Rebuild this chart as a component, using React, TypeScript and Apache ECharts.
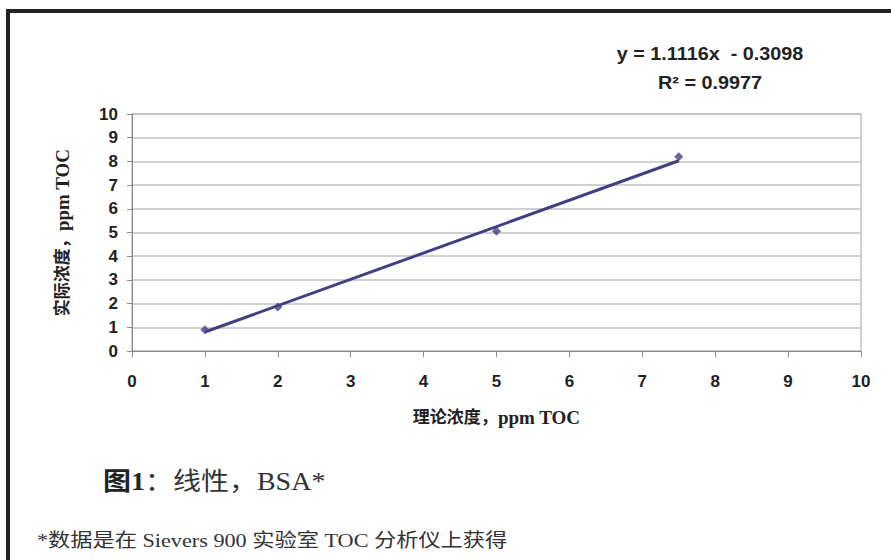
import React, { useEffect, useRef } from "react";
import * as echarts from "echarts";

// Measured data (theoretical vs actual ppm TOC)
const theoretical = [1, 2, 5, 7.5];
const actual = [0.9, 1.86, 5.05, 8.2];

// Linear trendline as reported on the chart
const TREND_SLOPE = 1.1116;
const TREND_INTERCEPT = -0.3098;
const R_SQUARED = 0.9977;

const axisTicks = [0, 1, 2, 3, 4, 5, 6, 7, 8, 9, 10];

const xAxisNameCJK = "理论浓度，";
const yAxisNameCJK = "实际浓度，";
const axisUnit = "ppm TOC";
const captionTitle = "图1";
const captionRest = "：线性，BSA*";
const footnote = "*数据是在 Sievers 900 实验室 TOC 分析仪上获得";

export default function App() {
  const ref = useRef<HTMLDivElement>(null);

  useEffect(() => {
    if (!ref.current) return;
    const chart = echarts.init(ref.current, null, { renderer: "svg" });
    const xMin = Math.min(...theoretical);
    const xMax = Math.max(...theoretical);
    const trend = [
      [xMin, TREND_SLOPE * xMin + TREND_INTERCEPT],
      [xMax, TREND_SLOPE * xMax + TREND_INTERCEPT],
    ];
    const sansBold = {
      fontFamily: "'Liberation Sans', Arial, sans-serif",
      fontWeight: "bold" as const,
      color: "#222",
    };
    const serif = "'Liberation Serif', 'Times New Roman', 'Noto Sans CJK SC', serif";
    const nameStyle = {
      fontFamily: serif,
      fontWeight: "bold",
      fontSize: 17,
      color: "#222",
      rich: {
        c: { fontFamily: serif, fontWeight: "bold", fontSize: 17, color: "#222" },
        l: { fontFamily: serif, fontWeight: "bold", fontSize: 19, color: "#222" },
      },
    };
    chart.setOption({
      animation: false,
      backgroundColor: "#fff",
      grid: {
        left: 132,
        right: 30,
        top: 114,
        bottom: 209,
        show: true,
        borderColor: "#a0a0a0",
        borderWidth: 1,
      },
      xAxis: {
        type: "value",
        min: axisTicks[0],
        max: axisTicks[axisTicks.length - 1],
        interval: 1,
        name: `{c|${xAxisNameCJK}}{l|${axisUnit}}`,
        nameLocation: "middle",
        nameGap: 57,
        nameTextStyle: nameStyle,
        axisLine: { show: true, lineStyle: { color: "#8a8a8a", width: 1 } },
        axisTick: { show: true, length: 6, lineStyle: { color: "#8a8a8a" } },
        splitLine: { show: false },
        axisLabel: { ...sansBold, fontSize: 17, margin: 22 },
      },
      yAxis: {
        type: "value",
        min: axisTicks[0],
        max: axisTicks[axisTicks.length - 1],
        interval: 1,
        name: `{c|${yAxisNameCJK}}{l|${axisUnit}}`,
        nameLocation: "middle",
        nameRotate: 90,
        nameGap: 60,
        nameTextStyle: nameStyle,
        axisLine: { show: true, lineStyle: { color: "#8a8a8a", width: 1 } },
        axisTick: { show: true, length: 5, lineStyle: { color: "#8a8a8a" } },
        splitLine: { show: true, lineStyle: { color: "#c0c0c0", width: 1.5 } },
        axisLabel: { ...sansBold, fontSize: 17, margin: 14 },
      },
      series: [
        {
          type: "line",
          data: trend,
          showSymbol: false,
          lineStyle: { color: "#433f83", width: 3 },
          z: 2,
        },
        {
          type: "scatter",
          data: theoretical.map((x, i) => [x, actual[i]]),
          symbol: "diamond",
          symbolSize: 9,
          itemStyle: { color: "#433f83" },
          z: 3,
        },
      ],
      graphic: [
        {
          type: "rect",
          shape: { x: 8, y: 11, width: 1000, height: 1000 },
          style: { fill: "none", stroke: "#222", lineWidth: 4 },
          z: 10,
        },
        {
          type: "text",
          x: 710,
          y: 54,
          scaleX: 1.1,
          style: {
            text: `y = ${TREND_SLOPE}x  - ${Math.abs(TREND_INTERCEPT)}`,
            ...sansBold,
            fill: "#222",
            fontSize: 18,
            align: "center",
            verticalAlign: "middle",
          },
        },
        {
          type: "text",
          x: 710,
          y: 83,
          scaleX: 1.1,
          style: {
            text: `R² = ${R_SQUARED}`,
            ...sansBold,
            fill: "#222",
            fontSize: 18,
            align: "center",
            verticalAlign: "middle",
          },
        },
        {
          type: "text",
          x: 103,
          y: 482,
          scaleX: 1.12,
          style: {
            text: `{b|${captionTitle}}{n|${captionRest}}`,
            verticalAlign: "middle",
            rich: {
              b: { fontFamily: serif, fontWeight: "bold", fontSize: 25, fill: "#222", color: "#222" },
              n: { fontFamily: serif, fontWeight: "normal", fontSize: 25, fill: "#333", color: "#333" },
            },
          },
        },
        {
          type: "text",
          x: 37,
          y: 541,
          scaleX: 1.17,
          style: {
            text: footnote,
            fontFamily: serif,
            fontSize: 19,
            fill: "#333",
            verticalAlign: "middle",
          },
        },
      ],
    });
    return () => chart.dispose();
  }, []);

  return (
    <div
      ref={ref}
      style={{ position: "fixed", left: 0, top: 0, width: 891, height: 560, overflow: "hidden" }}
    />
  );
}
